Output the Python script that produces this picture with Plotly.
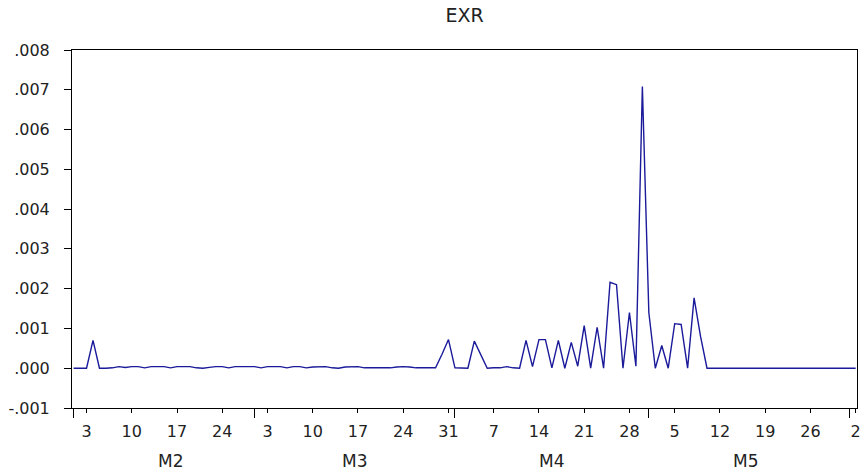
import pandas as pd
import plotly.graph_objects as go

# ---- data ----
dates = pd.date_range("2014-02-01", "2014-06-02", freq="D")
exr = [
    0, 0, 0, 0.0007, 0, 0, 0.00001, 0.00004, 0.00002, 0.00004,
    0.00004, 0.00001, 0.00004, 0.00004, 0.00004, 0.00001, 0.00004, 0.00004, 0.00004, 0.00001,
    0, 0.00002, 0.00004, 0.00004, 0.00001, 0.00004, 0.00004, 0.00004, 0.00004, 0.00001,
    0.00004, 0.00004, 0.00004, 0.00001, 0.00004, 0.00004, 0.00001, 0.00003, 0.00004, 0.00004,
    0.00001, 0, 0.00003, 0.00004, 0.00004, 0.00001, 0.00001, 0.00001, 0.00001, 0.00001,
    0.00003, 0.00004, 0.00003, 0.00001, 0.00001, 0.00001, 0.00001, 0.00035, 0.00072, 0.00001,
    0, 0, 0.00068, 0.00035, 0, 0.00001, 0.00001, 0.00004, 0.00001, 0,
    0.0007, 0.00004, 0.00072, 0.00072, 0.00001, 0.0007, 0, 0.00065, 0.00005, 0.00107,
    0, 0.00103, 0, 0.00216, 0.0021, 0, 0.0014, 0.00005, 0.00708, 0.0014,
    0, 0.00057, 0, 0.00112, 0.0011, 0, 0.00177, 0.0008, 0, 0,
    0, 0, 0.00001, 0, 0, 0, 0, 0.00001, 0.00001, 0,
    0, 0, 0, 0, 0, 0, 0, 0, 0, 0,
    0, 0,
]

x_tick_dates = ["2014-02-03", "2014-02-10", "2014-02-17", "2014-02-24",
                "2014-03-03", "2014-03-10", "2014-03-17", "2014-03-24", "2014-03-31",
                "2014-04-07", "2014-04-14", "2014-04-21", "2014-04-28",
                "2014-05-05", "2014-05-12", "2014-05-19", "2014-05-26", "2014-06-02"]
x_tick_labels = ["3", "10", "17", "24", "3", "10", "17", "24", "31",
                 "7", "14", "21", "28", "5", "12", "19", "26", "2"]
month_bounds = ["2014-02-01", "2014-03-01", "2014-04-01", "2014-05-01", "2014-06-01"]
month_labels = ["M2", "M3", "M4", "M5"]
month_label_pos = ["2014-02-16", "2014-03-16 12:00", "2014-04-16", "2014-05-16"]

y_ticks = [-0.001, 0.0, 0.001, 0.002, 0.003, 0.004, 0.005, 0.006, 0.007, 0.008]
y_tick_labels = ["-.001", ".000", ".001", ".002", ".003", ".004", ".005", ".006", ".007", ".008"]

FONT = "DejaVu Sans"
TXT = "#222222"
W, H = 867, 475

fig = go.Figure()
fig.add_trace(go.Scatter(x=dates, y=exr, mode="lines",
                         line=dict(color="#1a1a9a", width=1.4),
                         showlegend=False, hoverinfo="x+y"))

for lab, pos in zip(month_labels, month_label_pos):
    fig.add_annotation(x=pos, xref="x", y=-0.148, yref="paper", text=lab,
                       showarrow=False, yanchor="middle",
                       font=dict(family=FONT, size=17, color=TXT))

fig.update_layout(
    width=W, height=H,
    margin=dict(l=72, r=6, t=50, b=67),
    paper_bgcolor="white", plot_bgcolor="white",
    title=dict(text="EXR", x=0.5, xref="paper", xanchor="center",
               y=1 - 15 / H, yref="container", yanchor="middle",
               font=dict(family=FONT, size=19, color=TXT)),
    font=dict(family=FONT, size=16, color=TXT),
)
fig.update_xaxes(
    range=["2014-01-31 18:00", "2014-06-02 05:00"],
    tickmode="array", tickvals=x_tick_dates, ticktext=x_tick_labels,
    ticks="outside", ticklen=4, tickwidth=1, tickcolor="black",
    ticklabelstandoff=5,
    minor=dict(tickmode="array", tickvals=month_bounds, ticks="outside",
               ticklen=9, tickwidth=1, tickcolor="black", showgrid=False),
    showline=True, linecolor="black", linewidth=1, mirror=True,
    showgrid=False, zeroline=False,
    tickfont=dict(family=FONT, size=16, color=TXT),
)
fig.update_yaxes(
    range=[-0.001, 0.008],
    tickmode="array", tickvals=y_ticks, ticktext=y_tick_labels,
    ticks="outside", ticklen=7, tickwidth=1, tickcolor="black",
    ticklabelstandoff=11,
    showline=True, linecolor="black", linewidth=1, mirror=True,
    showgrid=False, zeroline=False,
    tickfont=dict(family=FONT, size=16, color=TXT),
)

# remove the browser's default 8px body margin so the figure sits at the page origin
fig.write_html("out.html", config={"displayModeBar": False},
               post_script="document.body.style.margin='0';")
